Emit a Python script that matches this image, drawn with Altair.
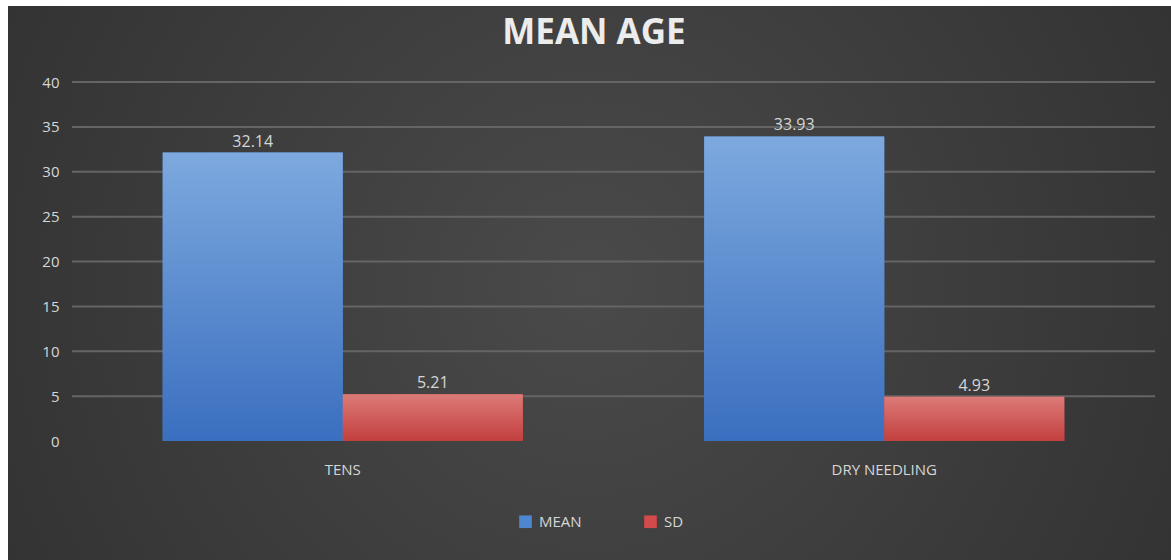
import altair as alt
import pandas as pd

categories = ["TENS", "TENS", "DRY NEEDLING", "DRY NEEDLING"]
series = ["MEAN", "SD", "MEAN", "SD"]
values = [32.14, 5.21, 33.93, 4.93]
labels = ["32.14", "5.21", "33.93", "4.93"]
cat_order = ["TENS", "DRY NEEDLING"]
series_order = ["MEAN", "SD"]
y_ticks = [0, 5, 10, 15, 20, 25, 30, 35, 40]

df = pd.DataFrame({"category": categories, "series": series, "value": values, "label": labels})
grid_df = pd.DataFrame({"tick": y_ticks})

W, H = 1083, 359
PL, PT, PR, PB = 72, 82, 16, 119
FONT = "Open Sans"
TXT = "#d6d6d6"

x_enc = alt.X("category:N", sort=cat_order,
              scale=alt.Scale(paddingInner=0.335, paddingOuter=0.1675),
              axis=alt.Axis(title=None, labelAngle=0, domain=False, ticks=False, tickSize=0,
                            labelPadding=21, labelFontSize=15, labelColor=TXT,
                            labelFont=FONT, grid=False, zindex=1))
xoff = alt.XOffset("series:N", sort=series_order)
y_scale = alt.Scale(domain=[0, 40], nice=False)
y_enc = alt.Y("value:Q", scale=y_scale,
              axis=alt.Axis(title=None, values=y_ticks, domain=False, ticks=False, tickSize=0,
                            labelPadding=13, labelFontSize=15, labelColor=TXT,
                            labelFont=FONT, grid=False, zindex=1))

bg = alt.Chart(df).mark_rect(
    fill=alt.RadialGradient(gradient="radial", x1=0.5, y1=0.5, r1=0.0, x2=0.5, y2=0.5, r2=0.75,
                            stops=[alt.GradientStop(color="#4a4a4a", offset=0),
                                   alt.GradientStop(color="#2b2b2b", offset=1)])
).encode(x=alt.value(-PL + 8), x2=alt.value(W + PR), y=alt.value(-PT + 6), y2=alt.value(H + PB))

grid = alt.Chart(grid_df).transform_filter(alt.datum.tick > 0).mark_rule(
    color="#656565", strokeWidth=2).encode(
    y=alt.Y("tick:Q", scale=y_scale), x=alt.value(0), x2=alt.value(W))

base_bars = alt.Chart(df).mark_bar().encode(
    x=x_enc, xOffset=xoff, y=y_enc,
    color=alt.Color("series:N", sort=series_order,
                    scale=alt.Scale(domain=series_order, range=["#4f86d0", "#d24b4a"]),
                    legend=alt.Legend(title=None, orient="none", direction="horizontal",
                                      legendX=446, legendY=432, symbolType="square",
                                      symbolSize=160, labelFontSize=15, labelColor=TXT,
                                      labelFont=FONT, columnPadding=61, symbolStrokeWidth=0,
                                      labelOffset=6))
)

blue_grad = alt.LinearGradient(gradient="linear", x1=0, y1=0, x2=0, y2=1,
                               stops=[alt.GradientStop(color="#7da9de", offset=0),
                                      alt.GradientStop(color="#3a6fc0", offset=1)])
red_grad = alt.LinearGradient(gradient="linear", x1=0, y1=0, x2=0, y2=1,
                              stops=[alt.GradientStop(color="#dc7b78", offset=0),
                                     alt.GradientStop(color="#c23f3e", offset=1)])

mean_bars = alt.Chart(df).transform_filter(alt.datum.series == "MEAN").mark_bar(fill=blue_grad).encode(
    x=x_enc, xOffset=xoff, y=y_enc)
sd_bars = alt.Chart(df).transform_filter(alt.datum.series == "SD").mark_bar(fill=red_grad).encode(
    x=x_enc, xOffset=xoff, y=y_enc)

text = alt.Chart(df).mark_text(baseline="bottom", dy=-3, fontSize=16, color=TXT, font=FONT).encode(
    x=x_enc, xOffset=xoff, y=y_enc, text="label:N")

title = alt.Chart(df).transform_filter(alt.datum.series == "MEAN").transform_filter(
    alt.datum.category == "TENS").mark_text(
    text="MEAN AGE", fontSize=35, fontWeight="bold", color="#ececec", font=FONT, baseline="middle"
).encode(x=alt.value(522), y=alt.value(-49))

chart = alt.layer(bg, grid, base_bars, mean_bars, sd_bars, text, title).properties(
    width=W, height=H,
    autosize=alt.AutoSizeParams(type="none"),
    padding={"left": PL, "top": PT, "right": PR, "bottom": PB},
).configure(background="white").configure_view(stroke=None)

chart.save("out.html", embed_options={"renderer": "svg", "actions": False})
